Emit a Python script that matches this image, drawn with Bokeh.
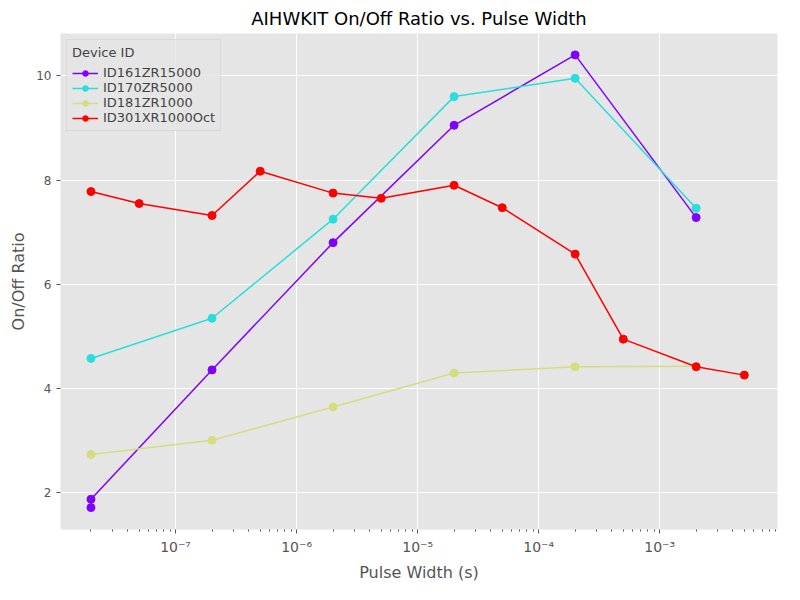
from bokeh.plotting import figure
from bokeh.models import FixedTicker, Range1d, Legend, LegendItem
from bokeh.embed import file_html
from bokeh.resources import INLINE

# pulse widths (s)
x_161 = [2e-8, 2e-8, 2e-7, 2e-6, 2e-5, 2e-4, 2e-3]
y_161 = [1.72, 1.88, 4.36, 6.80, 9.05, 10.40, 7.28]
x_170 = [2e-8, 2e-7, 2e-6, 2e-5, 2e-4, 2e-3]
y_170 = [4.58, 5.35, 7.25, 9.60, 9.95, 7.46]
x_181 = [2e-8, 2e-7, 2e-6, 2e-5, 2e-4, 2e-3]
y_181 = [2.74, 3.01, 3.65, 4.30, 4.42, 4.43]
x_301 = [2e-8, 5e-8, 2e-7, 5e-7, 2e-6, 5e-6, 2e-5, 5e-5, 2e-4, 5e-4, 2e-3, 5e-3]
y_301 = [7.78, 7.55, 7.32, 8.17, 7.75, 7.65, 7.90, 7.47, 6.58, 4.95, 4.42, 4.26]

series = [
    ("ID161ZR15000", x_161, y_161, "#8000ff"),
    ("ID170ZR5000", x_170, y_170, "#2adddd"),
    ("ID181ZR1000", x_181, y_181, "#d4dd80"),
    ("ID301XR1000Oct", x_301, y_301, "#ff0000"),
]

p = figure(width=784, height=584, x_axis_type="log", output_backend="svg",
           toolbar_location=None, tools="",
           x_range=Range1d(1.12e-8, 9.4e-3), y_range=Range1d(1.30, 10.81),
           title="AIHWKIT On/Off Ratio vs. Pulse Width")
p.title.align = "center"
p.title.text_font = "DejaVu Sans"
p.title.text_font_size = "18px"
p.title.text_font_style = "normal"
p.title.text_color = "black"
p.background_fill_color = "#e5e5e5"
p.outline_line_color = None
p.grid.grid_line_color = "white"
p.grid.grid_line_width = 1
p.min_border_left = 60
p.min_border_right = 7
p.min_border_top = 6
p.min_border_bottom = 50

major = [1e-7, 1e-6, 1e-5, 1e-4, 1e-3]
minor = []
for d in range(-8, -2):
    for k in range(2, 10):
        v = k * 10.0 ** d
        if 1.12e-8 < v < 9.4e-3:
            minor.append(v)
p.xaxis.ticker = FixedTicker(ticks=major, minor_ticks=minor)
p.xaxis.major_label_overrides = {1e-7: "10⁻⁷", 1e-6: "10⁻⁶", 1e-5: "10⁻⁵",
                                 1e-4: "10⁻⁴", 1e-3: "10⁻³"}
p.yaxis.ticker = FixedTicker(ticks=[2, 4, 6, 8, 10])
for ax in (p.xaxis, p.yaxis):
    ax.axis_line_color = None
    ax.major_tick_line_color = "#555555"
    ax.minor_tick_line_color = "#555555"
    ax.major_tick_in = 0
    ax.major_tick_out = 4
    ax.minor_tick_in = 0
    ax.minor_tick_out = 2
    ax.major_label_text_color = "#555555"
    ax.major_label_text_font = "DejaVu Sans"
    ax.major_label_text_font_size = "12px"
    ax.axis_label_text_color = "#555555"
    ax.axis_label_text_font = "DejaVu Sans"
    ax.axis_label_text_font_size = "16px"
    ax.axis_label_text_font_style = "normal"
p.xaxis.major_label_text_font_size = "14px"
p.yaxis.minor_tick_line_color = None
p.xaxis.axis_label = "Pulse Width (s)"
p.yaxis.axis_label = "On/Off Ratio"

items = []
for name, xs, ys, c in series:
    l = p.line(xs, ys, line_color=c, line_width=1.5)
    s = p.scatter(xs, ys, size=8, fill_color=c, line_color=c)
    items.append(LegendItem(label=name, renderers=[l, s]))

legend = Legend(items=items, location="top_left", title="Device ID")
legend.title_text_font = "DejaVu Sans"
legend.title_text_font_size = "13px"
legend.title_text_font_style = "normal"
legend.label_text_font = "DejaVu Sans"
legend.label_text_font_size = "13px"
legend.background_fill_color = "#e5e5e5"
legend.background_fill_alpha = 0.8
legend.border_line_color = "#cccccc"
legend.spacing = 0
legend.padding = 5
legend.label_height = 14
legend.glyph_height = 14
legend.glyph_width = 26
legend.margin = 6
p.add_layout(legend)

open("out.html", "w").write(file_html(p, INLINE))
